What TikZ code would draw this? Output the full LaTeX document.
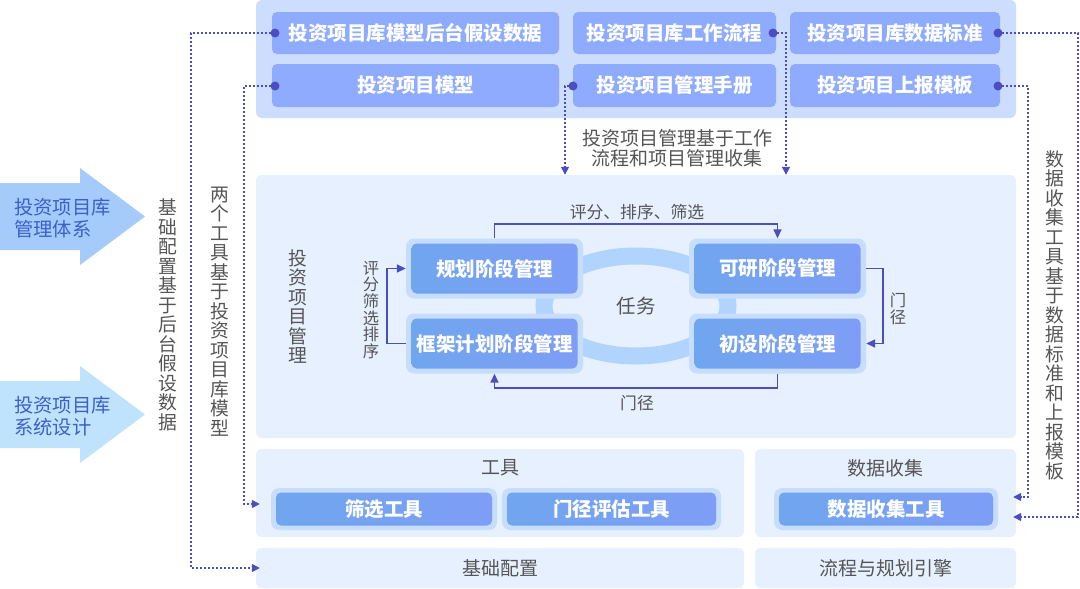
\documentclass[tikz,border=0pt]{standalone}
\usepackage{fontspec}
\setmainfont{Noto Sans CJK SC}
\usetikzlibrary{arrows.meta,calc}
\definecolor{toppanel}{HTML}{CCDDFD}
\definecolor{topbox}{HTML}{8EABFD}
\definecolor{panel}{HTML}{E6F0FE}
\definecolor{halo}{HTML}{C6DDFD}
\definecolor{gradL}{HTML}{70A6EE}
\definecolor{gradR}{HTML}{7E9DF6}
\definecolor{ink}{HTML}{4A4EBF}
\definecolor{graytxt}{HTML}{555555}
\definecolor{ringc}{HTML}{B0D4FD}
\definecolor{arrowA}{HTML}{A5CBFB}
\definecolor{arrowB}{HTML}{C0E3FD}
\definecolor{arrowtxt}{HTML}{3E5FC9}
\newcommand\myfbig{\fontsize{19.5}{21}\selectfont}
\newcommand\myfmid{\fontsize{19}{20.5}\selectfont}
\newcommand\myfsmall{\fontsize{16.8}{17}\selectfont}
\tikzset{
  toppanelbox/.style={fill=toppanel, rounded corners=6pt, inner sep=0pt},
  panelbox/.style={fill=panel, rounded corners=6pt, inner sep=0pt, text=graytxt, font=\myfmid},
  topbox/.style={fill=topbox, rounded corners=5pt, inner sep=0pt, text=white, font=\bfseries\myfbig},
  halobox/.style={fill=halo, rounded corners=8pt, inner sep=0pt},
  innerbox/.style={left color=gradL, right color=gradR, rounded corners=5pt, inner sep=0pt, text=white, font=\bfseries\myfbig},
  dotc/.style={circle, fill=ink, minimum size=9pt, inner sep=0pt},
  dotline/.style={draw=ink, line width=1.6pt, dash pattern=on 1.8pt off 2.2pt, -{Triangle[length=8pt,width=8pt]}},
  conn/.style={draw=ink, line width=1.6pt, -{Triangle[length=9pt,width=8pt]}},
  graylbl/.style={text=graytxt, inner sep=0pt, font=\myfmid},
  smalllbl/.style={text=graytxt, inner sep=0pt, font=\myfsmall},
  vtext/.style={text=graytxt, inner sep=0pt, align=center, font=\fontsize{18.8}{19.5}\selectfont},
  vsmall/.style={text=graytxt, inner sep=0pt, align=center, font=\fontsize{16.3}{16.7}\selectfont},
  arrowlbl/.style={text=arrowtxt, inner sep=0pt, align=left, font=\fontsize{19.3}{21.5}\selectfont},
}
\begin{document}
\begin{tikzpicture}[x=1pt,y=-1pt]
\useasboundingbox (0,0) rectangle (1080,589);
\fill[white] (0,0) rectangle (1080,589);

% left big arrows
\fill[arrowA] (0,183) -- (80,183) -- (80,168) -- (145,216.5) -- (80,265) -- (80,250) -- (0,250) -- cycle;
\fill[arrowB] (0,381) -- (80,381) -- (80,366) -- (145,414.5) -- (80,463) -- (80,448) -- (0,448) -- cycle;
\node[arrowlbl, anchor=west] (al1) at (14,218) {投资项目库\\管理体系};
\node[arrowlbl, anchor=west] (al2) at (14,416) {投资项目库\\系统设计};

% panels
\node[toppanelbox, minimum width=760pt, minimum height=118pt] (top) at (636,59) {};
\node[panelbox, minimum width=760pt, minimum height=263pt] (mid) at (636,306.5) {};
\node[panelbox, minimum width=488pt, minimum height=88pt] (tools) at (500,493) {};
\node[panelbox, minimum width=261pt, minimum height=88pt] (collect) at (885.5,493) {};
\node[panelbox, minimum width=488pt, minimum height=40pt] (base) at (500,568) {基础配置};
\node[panelbox, minimum width=261pt, minimum height=40pt] (engine) at (885.5,568) {流程与规划引擎};
\node[graylbl] (toolslbl) at (500,468) {工具};
\node[graylbl] (collectlbl) at (885.5,468) {数据收集};

% top boxes
\node[topbox, minimum width=287pt, minimum height=42pt] (tb1) at (415.5,33) {投资项目库模型后台假设数据};
\node[topbox, minimum width=287pt, minimum height=43pt] (tb2) at (415.5,85.5) {投资项目模型};
\node[topbox, minimum width=203pt, minimum height=42pt] (tb3) at (674.5,33) {投资项目库工作流程};
\node[topbox, minimum width=203pt, minimum height=43pt] (tb4) at (674.5,85.5) {投资项目管理手册};
\node[topbox, minimum width=210pt, minimum height=42pt] (tb5) at (895,33) {投资项目库数据标准};
\node[topbox, minimum width=210pt, minimum height=43pt] (tb6) at (895,85.5) {投资项目上报模板};

% middle label
\node[graylbl, align=center, font=\fontsize{19}{20}\selectfont] (midnote) at (677,148) {投资项目管理基于工作\\流程和项目管理收集};

% ring
\draw[ringc, line width=17pt] (636,306) ellipse [x radius=92, y radius=50];
\node[graylbl, font=\myfbig] (task) at (636,306) {任务};

% stage boxes
\node[halobox, minimum width=177pt, minimum height=60pt] (s1) at (494.5,268.5) {};
\node[innerbox, minimum width=166pt, minimum height=50pt] (s1i) at (494.5,268.5) {规划阶段管理};
\node[halobox, minimum width=177pt, minimum height=60pt] (s2) at (777.5,268.5) {};
\node[innerbox, minimum width=166pt, minimum height=50pt] (s2i) at (777.5,268.5) {可研阶段管理};
\node[halobox, minimum width=177pt, minimum height=60pt] (s3) at (777.5,343.5) {};
\node[innerbox, minimum width=166pt, minimum height=50pt] (s3i) at (777.5,343.5) {初设阶段管理};
\node[halobox, minimum width=177pt, minimum height=60pt] (s4) at (494.5,343.5) {};
\node[innerbox, minimum width=166pt, minimum height=50pt] (s4i) at (494.5,343.5) {框架计划阶段管理};

% tool boxes
\node[halobox, minimum width=226pt, minimum height=42pt] (t1) at (384,509) {};
\node[innerbox, minimum width=216pt, minimum height=33pt] (t1i) at (384,509) {筛选工具};
\node[halobox, minimum width=219pt, minimum height=42pt] (t2) at (611.5,509) {};
\node[innerbox, minimum width=209pt, minimum height=33pt] (t2i) at (611.5,509) {门径评估工具};
\node[halobox, minimum width=224pt, minimum height=42pt] (t3) at (886,509) {};
\node[innerbox, minimum width=214pt, minimum height=33pt] (t3i) at (886,509) {数据收集工具};

% stage connectors
\coordinate (ytop) at (0,224);
\coordinate (ybot) at (0,388);
\coordinate (xright) at (883,0);
\coordinate (xleft) at (387,0);
\draw[conn] (s1.north) -- (s1.north |- ytop) -| (s2.north);
\draw[conn] (s2.east) -- (s2.east -| xright) |- (s3.east);
\draw[conn] (s3.south) -- (s3.south |- ybot) -| (s4.south);
\draw[conn] (s4.west) -- (s4.west -| xleft) |- (s1.west);
\node[smalllbl] (lbltop) at (637,212) {评分、排序、筛选};
\node[smalllbl] (lblbot) at (637,403) {门径};
\node[vsmall] (lblright) at (898,309) {门\\径};
\node[vsmall] (lblleft) at (371,310) {评\\分\\筛\\选\\排\\序};
\node[vtext] (midtitle) at (298,306.5) {投\\资\\项\\目\\管\\理};

% vertical side labels
\node[vtext] (vl1) at (168,315) {基\\础\\配\\置\\基\\于\\后\\台\\假\\设\\数\\据};
\node[vtext] (vl2) at (220,311.5) {两\\个\\工\\具\\基\\于\\投\\资\\项\\目\\库\\模\\型};
\node[vtext] (vr) at (1055,315) {数\\据\\收\\集\\工\\具\\基\\于\\数\\据\\标\\准\\和\\上\\报\\模\\板};

% dots
\node[dotc] (dt1) at (275,33) {};
\node[dotc] (dt2) at (275,86) {};
\node[dotc] (dt3) at (773,33) {};
\node[dotc] (dt4) at (573,86) {};
\node[dotc] (dt5) at (998,33) {};
\node[dotc] (dt6) at (998,86) {};

% dotted connectors
\coordinate (y504) at (0,504);
\coordinate (y497) at (0,497);
\coordinate (y517) at (0,517);
\coordinate (x565) at (565,0);
\coordinate (x786) at (786,0);
\coordinate (e2) at (tools.west |- y504);
\coordinate (e3) at (mid.north -| x565);
\coordinate (e4) at (mid.north -| x786);
\coordinate (e5) at (collect.east |- y517);
\coordinate (e6) at (collect.east |- y497);
\draw[dotline, shorten >=-4pt] (dt1.center) -- (191,33) -- (191,568) -- (base.west);
\draw[dotline, shorten >=-4pt] (dt2.center) -- (244,86) -- (244,504) -- (e2);
\draw[dotline] (dt4.center) -- (565,86) -- (e3);
\draw[dotline] (dt3.center) -- (786,33) -- (e4);
\draw[dotline, shorten >=-3pt] (dt5.center) -- (1078,33) -- (1078,517) -- (e5);
\draw[dotline, shorten >=-3pt] (dt6.center) -- (1028,86) -- (1028,497) -- (e6);
\end{tikzpicture}
\end{document}
